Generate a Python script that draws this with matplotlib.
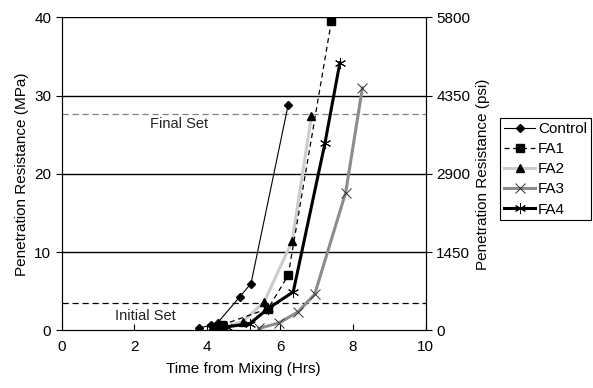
import matplotlib
matplotlib.use("Agg")
import matplotlib.pyplot as plt

plt.rcParams['font.family'] = ['Liberation Sans', 'DejaVu Sans']
plt.rcParams['font.size'] = 11

# данные
control_x = [3.78, 4.11, 4.28, 4.89, 5.20, 6.22]
control_y = [0.29, 0.64, 0.93, 4.26, 5.97, 28.8]

fa1_x = [4.18, 4.39, 5.67, 6.22, 7.41]
fa1_y = [0.13, 0.64, 2.77, 7.0, 39.6]

fa2_x = [4.13, 4.45, 4.97, 5.56, 6.33, 6.86]
fa2_y = [0.22, 0.45, 1.06, 3.6, 11.4, 27.4]

fa3_x = [5.41, 5.97, 6.49, 6.95, 7.80, 8.26]
fa3_y = [0.22, 0.93, 2.34, 4.6, 17.6, 31.0]

fa4_x = [4.35, 4.53, 5.17, 5.67, 6.36, 7.23, 7.64]
fa4_y = [0.3, 0.42, 0.85, 2.77, 4.9, 23.9, 34.2]

final_set = 27.6
initial_set = 3.45
psi_ticks = [0, 1450, 2900, 4350, 5800]

fig = plt.figure(figsize=(5.93, 3.88), dpi=100)
ax = fig.add_axes([0.104, 0.149, 0.614, 0.806])

for yv in [10, 20, 30, 40]:
    ax.axhline(yv, color='black', linewidth=1.0, zorder=1)
ax.axhline(final_set, color='#808080', linestyle='--', linewidth=0.9, dashes=(5, 3), zorder=1)
ax.axhline(initial_set, color='black', linestyle='--', linewidth=0.9, dashes=(5, 3), zorder=1)
ax.text(3.22, 26.4, 'Final Set', ha='center', va='center', fontsize=10.5, color='#222222')
ax.text(2.30, 1.8, 'Initial Set', ha='center', va='center', fontsize=10.5, color='#222222')

ax.plot(fa3_x, fa3_y, color='#8c8c8c', linewidth=2.2, marker='x', markersize=7,
        markeredgecolor='#333333', markeredgewidth=0.7, label='FA3', zorder=3)
ax.plot(fa2_x, fa2_y, color='#cccccc', linewidth=2.2, marker='^', markersize=6,
        markerfacecolor='black', markeredgecolor='black', label='FA2', zorder=4)
ax.plot(fa1_x, fa1_y, color='black', linewidth=0.9, linestyle='--', dashes=(4, 3),
        marker='s', markersize=6, label='FA1', zorder=5)
ax.plot(fa4_x, fa4_y, color='black', linewidth=2.2, marker=(6, 2, 0), markersize=8,
        markeredgewidth=0.7, label='FA4', zorder=6)
ax.plot(control_x, control_y, color='black', linewidth=0.8, marker='D', markersize=4.5,
        label='Control', zorder=7)

ax.set_xlim(0, 10)
ax.set_ylim(0, 40)
ax.set_xticks(range(0, 11, 2))
ax.set_yticks(range(0, 41, 10))
ax.tick_params(axis='x', direction='in', length=4, pad=7)
ax.tick_params(axis='y', direction='out', length=4)
ax.spines['top'].set_visible(False)
ax.set_xlabel('Time from Mixing (Hrs)', labelpad=6)
ax.set_ylabel('Penetration Resistance (MPa)')

ax2 = ax.twinx()
ax2.set_ylim(0, 5800)
ax2.set_yticks(psi_ticks)
ax2.tick_params(axis='y', direction='out', length=4)
ax2.spines['top'].set_visible(False)
ax2.set_ylabel('Penetration Resistance (psi)')

handles, labels = ax.get_legend_handles_labels()
order = ['Control', 'FA1', 'FA2', 'FA3', 'FA4']
hl = dict(zip(labels, handles))
leg = fig.legend([hl[k] for k in order], order, loc='upper left',
                 bbox_to_anchor=(0.844, 0.695), frameon=True, fancybox=False,
                 edgecolor='black', framealpha=1, borderpad=0.25, labelspacing=0.4,
                 handlelength=2.0, handletextpad=0.2, borderaxespad=0)
leg.get_frame().set_linewidth(0.8)

fig.savefig('out.png', dpi=100)
